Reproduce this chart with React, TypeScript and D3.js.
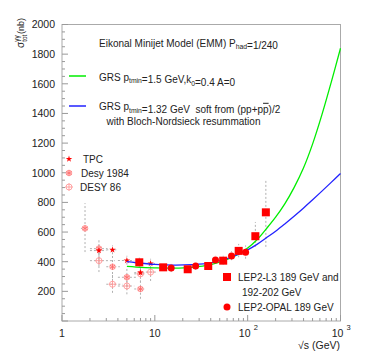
import React from "react";
import * as d3 from "d3";

// gamma-gamma total cross section vs sqrt(s), EMM curves + data

const W = 391;
const H = 354;
const FONT = "Liberation Sans, Arial, Helvetica, sans-serif";

// model curves (sqrt s in GeV, sigma in nb)
const curveEnergy = [5, 6.3, 10, 15.8, 25, 40, 63, 79, 100, 126, 158, 200, 251, 316, 398, 501, 631, 794, 1000];
const greenSigma = [368, 364, 359, 357, 362, 380, 420, 450, 492, 548, 620, 700, 790, 900, 1030, 1195, 1392, 1610, 1840];
const blueSigma = [400, 393, 382, 377, 380, 392, 425, 450, 480, 517, 560, 606, 655, 707, 761, 818, 876, 935, 995];

// data points: [sqrt s, sigma, sLo, sHi, sigLo, sigHi]
const tpc = [
  [2.5, 475, 2.0, 3.0, 420, 530],
  [3.5, 480, 3.0, 4.0, 450, 510],
  [5.0, 408, 4.0, 6.0, 380, 440],
  [7.0, 326, 6.0, 8.0, 290, 362],
  [9.0, 388, 8.0, 10.0, 360, 420],
];
const desy84 = [
  [1.77, 625, 1.6, 1.95, 465, 795],
  [2.5, 488, 2.0, 3.1, 370, 545],
  [3.5, 366, 3.0, 4.2, 290, 440],
  [5.0, 295, 4.0, 6.3, 230, 360],
  [7.0, 216, 6.0, 8.0, 150, 290],
];
const desy86 = [
  [2.5, 407, 2.0, 3.7, 330, 480],
  [3.5, 248, 3.0, 4.5, 190, 310],
  [5.0, 236, 4.0, 6.0, 180, 300],
  [7.0, 318, 6.0, 8.0, 260, 380],
  [9.0, 330, 8.0, 10.5, 270, 400],
];
const l3 = [
  [6.8, 396, 6.3, 7.3, 360, 430],
  [12.3, 362, 11.5, 13.2, 340, 385],
  [22.6, 349, 21, 24, 330, 370],
  [37.6, 371, 35, 40, 345, 395],
  [54.5, 407, 50, 59, 380, 440],
  [80, 473, 74, 86, 430, 520],
  [121, 572, 112, 130, 500, 668],
  [157, 733, 148, 166, 500, 950],
];
const opal = [
  [15, 357, 14, 16, 330, 385],
  [27.5, 371, 26, 29, 345, 395],
  [45, 411, 42, 48, 385, 440],
  [67, 439, 63, 71, 410, 470],
  [95, 464, 89, 101, 420, 510],
];

const yTickLabels = [200, 400, 600, 800, 1000, 1200, 1400, 1600, 1800, 2000];
const xDecades = [1, 10, 100, 1000];

const RED = "#ff0000";
const PINK = "#ff9a9a";

function Sub({ children }: { children: string }) {
  return <tspan fontSize={6.8} dy={2.8}>{children}</tspan>;
}
function Back() {
  return <tspan dy={-2.8}></tspan>;
}

export default function App() {
  const x = d3.scaleLog().domain([1, 1000]).range([62, 340.5]);
  const y = d3.scaleLinear().domain([0, 2000]).range([321, 24.5]);

  const line = (vals: number[]) =>
    d3.line<number>()
      .x((_, i) => x(curveEnergy[i]))
      .y((d) => y(d))
      .curve(d3.curveCatmullRom.alpha(0.5))(vals) || "";

  const star = d3.symbol(d3.symbolStar, 13)() || "";
  const aster = d3.symbol(d3.symbolAsterisk, 24)() || "";

  const errBars = (pts: number[][], key: string) =>
    pts.map((p, i) => (
      <g key={key + i} stroke="#b0b0b0" strokeWidth={1} strokeDasharray="2 2">
        <line x1={x(p[0])} x2={x(p[0])} y1={y(p[4])} y2={y(p[5])} />
        <line x1={x(p[2])} x2={x(p[3])} y1={y(p[1])} y2={y(p[1])} />
      </g>
    ));

  const tpcMark = (cx: number, cy: number, k: string) => (
    <path key={k} d={star} transform={`translate(${cx},${cy})`} fill={RED} />
  );
  const d84Mark = (cx: number, cy: number, k: string) => (
    <g key={k} transform={`translate(${cx},${cy})`}>
      <circle r={2.8} fill="#ffd6d6" stroke={PINK} strokeWidth={0.9} />
      <path d={aster} fill="none" stroke="#ff6a6a" strokeWidth={0.9} />
    </g>
  );
  const d86Mark = (cx: number, cy: number, k: string) => (
    <g key={k} transform={`translate(${cx},${cy})`} stroke={PINK} strokeWidth={0.9} fill="none">
      <circle r={3} />
      <line x1={-3.8} x2={3.8} y1={0} y2={0} />
      <line x1={0} x2={0} y1={-3.8} y2={3.8} />
    </g>
  );
  const l3Mark = (cx: number, cy: number, k: string) => (
    <rect key={k} x={cx - 4} y={cy - 4} width={8} height={8} fill={RED} />
  );
  const opalMark = (cx: number, cy: number, k: string) => (
    <circle key={k} cx={cx} cy={cy} r={3.5} fill={RED} />
  );

  const xMinor: number[] = [];
  [1, 10, 100].forEach((d) => d3.range(2, 10).forEach((k) => xMinor.push(d * k)));
  const yAll = d3.range(0, 2001, 50);

  return (
    <svg
      width={W}
      height={H}
      style={{ position: "fixed", left: 0, top: 0, background: "#fff" }}
      fontFamily={FONT}
    >
      <rect width={W} height={H} fill="#fff" />

      {/* frame */}
      <rect x={62} y={24.5} width={278.5} height={296.5} fill="none" stroke="#aaa" strokeWidth={1} />

      {/* y ticks */}
      {yAll.map((v) => (
        <line key={"yt" + v} x1={62} x2={62 + (v % 200 === 0 ? 6 : 3)} y1={y(v)} y2={y(v)} stroke="#999" />
      ))}
      {yTickLabels.map((v) => (
        <text key={"yl" + v} x={55} y={y(v) + 3.8} textAnchor="end" fontSize={10.5} fill="#222">
          {v}
        </text>
      ))}

      {/* x ticks */}
      {xDecades.map((v) => (
        <line key={"xt" + v} x1={x(v)} x2={x(v)} y1={321} y2={315} stroke="#999" />
      ))}
      {xMinor.map((v) => (
        <line key={"xm" + v} x1={x(v)} x2={x(v)} y1={321} y2={318} stroke="#999" />
      ))}
      <text x={x(1)} y={337} textAnchor="middle" fontSize={10.5} fill="#222">1</text>
      <text x={x(10)} y={337} textAnchor="middle" fontSize={10.5} fill="#222">10</text>
      <text x={x(100) - 3} y={337} textAnchor="middle" fontSize={10.5} fill="#222">10</text>
      <text x={x(100) + 6} y={330} fontSize={7.5} fill="#222">2</text>
      <text x={x(1000) - 3} y={337} textAnchor="middle" fontSize={10.5} fill="#222">10</text>
      <text x={x(1000) + 6} y={330} fontSize={7.5} fill="#222">3</text>

      {/* axis titles */}
      <text x={340} y={349} textAnchor="end" fontSize={10.5} fill="#222">√s (GeV)</text>
      <g transform="translate(24,48) rotate(-90)" fill="#222">
        <text x={0} y={0} fontSize={10}>σ</text>
        <text x={6.2} y={-5} fontSize={6.5}>γγ</text>
        <text x={6.2} y={2.5} fontSize={6.5}>tot</text>
        <text x={14} y={0} fontSize={9}>(nb)</text>
      </g>

      {/* error bars */}
      {errBars(desy84, "e84")}
      {errBars(desy86, "e86")}
      {errBars(tpc, "etpc")}
      {errBars(l3, "el3")}
      {errBars(opal, "eop")}

      {/* markers */}
      {desy84.map((p, i) => d84Mark(x(p[0]), y(p[1]), "m84" + i))}
      {desy86.map((p, i) => d86Mark(x(p[0]), y(p[1]), "m86" + i))}
      {tpc.map((p, i) => tpcMark(x(p[0]), y(p[1]), "mt" + i))}

      {/* curves */}
      <path d={line(greenSigma)} fill="none" stroke="#00ee00" strokeWidth={1.3} />
      <path d={line(blueSigma)} fill="none" stroke="#2222ff" strokeWidth={1.3} />

      {l3.map((p, i) => l3Mark(x(p[0]), y(p[1]), "ml3" + i))}
      {opal.map((p, i) => opalMark(x(p[0]), y(p[1]), "mop" + i))}

      {/* legend texts */}
      <g fontSize={10} fill="#222">
        <text x={99} y={46.5}>
          Eikonal Minijet Model (EMM) P<Sub>had</Sub><Back />=1/240
        </text>
        <line x1={69} x2={86} y1={76} y2={76} stroke="#00ee00" strokeWidth={1.5} />
        <text x={99} y={80.5}>
          GRS p<Sub>tmin</Sub><Back />=1.5 GeV,k<Sub>0</Sub><Back />=0.4 A=0
        </text>
        <line x1={69} x2={86} y1={106} y2={106} stroke="#2222ff" strokeWidth={1.5} />
        <text x={99} y={110} xmlSpace="preserve" style={{ whiteSpace: "pre" }}>
          GRS p<Sub>tmin</Sub><Back />{"=1.32 GeV  soft from (pp+p"}<tspan style={{ textDecoration: "overline" }}>p</tspan>)/2
        </text>
        <text x={106.5} y={124.5}>with Bloch-Nordsieck resummation</text>

        {tpcMark(69, 159, "lt")}
        <text x={83} y={163}>TPC</text>
        {d84Mark(69, 173, "l84")}
        <text x={81} y={177}>Desy 1984</text>
        {d86Mark(69, 187, "l86")}
        <text x={80} y={191}>DESY 86</text>

        {l3Mark(227, 277, "ll3")}
        <text x={238} y={281}>LEP2-L3 189 GeV and</text>
        <text x={242} y={295.5}>192-202 GeV</text>
        {opalMark(227, 307, "lop")}
        <text x={238} y={311}>LEP2-OPAL 189 GeV</text>
      </g>
    </svg>
  );
}
